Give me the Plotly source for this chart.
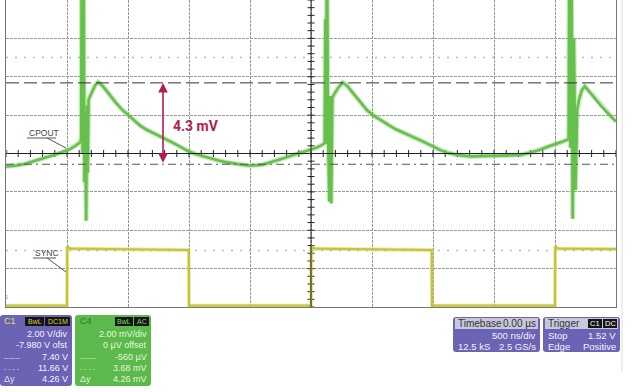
import numpy as np
import plotly.graph_objects as go

# ---------------- data ----------------
# time in microseconds (500 ns/div, 10 div, trigger at centre)
green_t = [-2.50, -2.42, -2.35, -2.28, -2.20, -2.12, -2.05, -1.98, -1.93, -1.89,
           -1.884, -1.879, -1.872, -1.865, -1.857, -1.851, -1.843, -1.836, -1.830, -1.823,
           -1.810, -1.790, -1.770, -1.745, -1.72, -1.68, -1.64, -1.60, -1.55, -1.50,
           -1.45, -1.40, -1.35, -1.30, -1.25, -1.20, -1.15, -1.10, -1.05, -1.00,
           -0.95, -0.90, -0.85, -0.80, -0.75, -0.70, -0.65, -0.60, -0.55, -0.50,
           -0.45, -0.40, -0.35, -0.30, -0.25, -0.20, -0.15, -0.10, -0.05, 0.00,
           0.05, 0.10, 0.112,
           0.118, 0.124, 0.130, 0.140, 0.150, 0.158, 0.166, 0.175,
           0.190, 0.220, 0.260, 0.300, 0.350, 0.400, 0.460, 0.520, 0.580, 0.640,
           0.700, 0.770, 0.840, 0.920, 1.000, 1.050, 1.110, 1.200, 1.310, 1.400,
           1.500, 1.600, 1.720, 1.800, 1.880, 1.950, 2.020, 2.070, 2.112,
           2.118, 2.126, 2.134, 2.145, 2.155, 2.168, 2.182,
           2.200, 2.220, 2.245, 2.280, 2.330, 2.380, 2.430, 2.470, 2.500]
# CPOUT (C4) in mV, 2 mV/div, 0 offset
green_mv = [-0.68, -0.64, -0.55, -0.42, -0.28, -0.10, 0.05, 0.22, 0.40, 0.60,
            0.8, 12, 0.0, 12, -1.5, 2.0, -3.5, 2.5, -1.0, 2.8,
            3.0, 3.3, 3.55, 3.72, 3.6, 3.3, 2.95, 2.65, 2.3, 2.0,
            1.72, 1.45, 1.25, 1.1, 0.95, 0.8, 0.62, 0.45, 0.27, 0.10,
            -0.02, -0.12, -0.22, -0.30, -0.38, -0.45, -0.51, -0.56, -0.60, -0.62,
            -0.62, -0.58, -0.50, -0.40, -0.30, -0.20, -0.08, 0.02, 0.10, 0.20,
            0.32, 0.48, 0.55,
            7.0, 0.5, 12, 1.0, -2.5, 3.0, -2.6, 2.9,
            3.1, 3.4, 3.7, 3.5, 3.1, 2.7, 2.25, 1.95, 1.7, 1.47,
            1.25, 1.05, 0.88, 0.62, 0.37, 0.2, 0.05, -0.08, -0.15, -0.13,
            -0.10, -0.10, -0.08, 0.05, 0.20, 0.38, 0.52, 0.64, 0.75,
            12, 0.3, 12, -3.4, 6.0, -1.9, 2.3,
            2.9, 3.3, 3.5, 3.25, 2.85, 2.45, 2.1, 1.85, 1.67]
assert len(green_t) == len(green_mv)

# SYNC (C1) in V, 2 V/div, -7.980 V offset
sync_t = [-2.5, -2.0, -1.998, -1.99, -1.97, -1.5, -1.002, -1.0, -0.5, 0.0,
          0.002, 0.01, 0.03, 0.5, 0.99, 0.992, 1.5, 2.0, 2.002, 2.01, 2.03, 2.5]
sync_v = [0.05, 0.05, 3.15, 3.08, 3.02, 3.0, 2.95, 0.05, 0.05, 0.05,
          3.15, 3.08, 3.02, 3.0, 2.95, 0.05, 0.05, 0.05, 3.15, 3.08, 3.02, 3.0]

cursor_top_mv = 3.68
cursor_bot_mv = -0.56
ref_dot_mv = [5.0, -5.05]
trigger_level_v = 1.52
delta_label = "4.3 mV"
arrow_t = -1.213

c1_rows = ["2.00 V/div", "-7.980 V ofst", "7.40 V", "11.66 V", "4.26 V"]
c4_rows = ["2.00 mV/div", "0 µV offset", "-560 µV", "3.68 mV", "4.26 mV"]
row_marks = ["", "", "-------", "- - - -", "Δy"]

# ---------------- geometry helpers ----------------
W, H = 644, 392
ML, MR, MT, MB = 6, 28, 0, 85
PW, PH = W - ML - MR, H - MT - MB


def px(x):
    return (x - ML) / PW


def py(y):
    return (MT + PH - y) / PH


GREEN = "#66c04c"
YEL = "#c6c438"
PURP = "#6b63b3"
GRN_P = "#5cb94b"
CRIM = "#b31d52"
FONT = "Liberation Sans"

fig = go.Figure()

# dotted reference lines
for v in ref_dot_mv:
    fig.add_shape(type="line", xref="paper", yref="y", x0=0, x1=1, y0=v, y1=v,
                  line=dict(color="#b8b8b8", width=1.5, dash="2px,7px"), layer="below")

# centre lines
fig.add_shape(type="line", xref="x", yref="paper", x0=0, x1=0, y0=0, y1=1,
              line=dict(color="#222", width=1))
fig.add_shape(type="line", xref="paper", yref="y", x0=0, x1=1, y0=0, y1=0,
              line=dict(color="#222", width=1))

# cursors
fig.add_shape(type="line", xref="paper", yref="y", x0=0, x1=1,
              y0=cursor_top_mv, y1=cursor_top_mv,
              line=dict(color="#333", width=1, dash="13px,5px"))
fig.add_shape(type="line", xref="paper", yref="y", x0=0, x1=1,
              y0=cursor_bot_mv, y1=cursor_bot_mv,
              line=dict(color="#555", width=1, dash="8px,4px,2px,4px"))

# centre-line tick marks
tx = np.round(np.arange(-2.5, 2.5001, 0.1), 3)
fig.add_trace(go.Scatter(x=tx, y=np.zeros_like(tx), mode="markers", hoverinfo="skip",
                         marker=dict(symbol="line-ns", size=5, line=dict(width=1, color="#222")),
                         showlegend=False))
ty = np.round(np.arange(-8, 8.001, 0.4), 3)
fig.add_trace(go.Scatter(x=np.zeros_like(ty), y=ty, mode="markers", hoverinfo="skip",
                         marker=dict(symbol="line-ew", size=5, line=dict(width=1, color="#222")),
                         showlegend=False))

# traces (a faint wide underlay gives the noisy band look)
fig.add_trace(go.Scatter(x=sync_t, y=sync_v, yaxis="y2", mode="lines", opacity=0.35,
                         line=dict(color=YEL, width=4), showlegend=False, hoverinfo="skip"))
fig.add_trace(go.Scatter(x=sync_t, y=sync_v, yaxis="y2", mode="lines",
                         line=dict(color=YEL, width=2.2), showlegend=False))
fig.add_trace(go.Scatter(x=green_t, y=green_mv, mode="lines", opacity=0.35,
                         line=dict(color=GREEN, width=5), showlegend=False, hoverinfo="skip"))
fig.add_trace(go.Scatter(x=green_t, y=green_mv, mode="lines",
                         line=dict(color=GREEN, width=2.6), showlegend=False))

# trigger markers
fig.add_trace(go.Scatter(x=[2.535], y=[trigger_level_v], yaxis="y2", mode="markers",
                         marker=dict(symbol="triangle-left", size=7, color="#c8c85a"),
                         cliponaxis=False, showlegend=False))
fig.add_trace(go.Scatter(x=[0], y=[-0.35], yaxis="y2", mode="markers",
                         marker=dict(symbol="triangle-up", size=6, color="#c8c85a"),
                         cliponaxis=False, showlegend=False))

# delta arrow + label
fig.add_annotation(x=arrow_t, y=cursor_top_mv, ax=arrow_t, ay=cursor_bot_mv,
                   xref="x", yref="y", axref="x", ayref="y", text="", showarrow=True,
                   arrowhead=2, arrowside="end+start", arrowsize=1.2, arrowwidth=1.6,
                   arrowcolor=CRIM, standoff=0, startstandoff=0)
fig.add_annotation(x=px(171), y=py(126), xref="paper", yref="paper", text="<b>%s</b>" % delta_label,
                   showarrow=False, xanchor="left", yanchor="middle",
                   font=dict(family="Roboto", size=14, color=CRIM))

# trace labels with underline & leader
for label, tx0, tyy, lx, ly in [("CPOUT", 27, 133, 66, 148), ("SYNC", 33, 253, 66, 272)]:
    fig.add_annotation(x=px(tx0), y=py(tyy), xref="paper", yref="paper", text=label,
                       showarrow=False, xanchor="left", yanchor="middle",
                       font=dict(family=FONT, size=8.5, color="#444"))
    wtxt = 29 if label == "CPOUT" else 23
    fig.add_shape(type="line", xref="paper", yref="paper", x0=px(tx0), x1=px(tx0 + wtxt),
                  y0=py(tyy + 5), y1=py(tyy + 5), line=dict(color="#555", width=1))
    fig.add_shape(type="line", xref="paper", yref="paper", x0=px(tx0 + wtxt - 9), x1=px(lx),
                  y0=py(tyy + 5), y1=py(ly), line=dict(color="#555", width=1))

# channel markers on left
fig.add_annotation(x=px(2.5), y=py(152), xref="paper", yref="paper", text="4", showarrow=False,
                   font=dict(family=FONT, size=6, color=GREEN))
fig.add_annotation(x=px(2.5), y=py(302), xref="paper", yref="paper", text="1", showarrow=False,
                   font=dict(family=FONT, size=6, color="#999"))

# right faint edge line
fig.add_shape(type="line", xref="paper", yref="paper", x0=px(622), x1=px(622),
              y0=py(0), y1=py(372), line=dict(color="#dedede", width=1))


def rrect(x0, y0, x1, y1, r, color):
    pts = [(x0 + r, y0), (x1 - r, y0), (x1, y0), (x1, y0 + r), (x1, y1 - r), (x1, y1),
           (x1 - r, y1), (x0 + r, y1), (x0, y1), (x0, y1 - r), (x0, y0 + r), (x0, y0), (x0 + r, y0)]
    p = [(px(a), py(b)) for a, b in pts]
    path = ("M {0[0]},{0[1]} L {1[0]},{1[1]} Q {2[0]},{2[1]} {3[0]},{3[1]} L {4[0]},{4[1]} "
            "Q {5[0]},{5[1]} {6[0]},{6[1]} L {7[0]},{7[1]} Q {8[0]},{8[1]} {9[0]},{9[1]} "
            "L {10[0]},{10[1]} Q {11[0]},{11[1]} {12[0]},{12[1]} Z").format(*p)
    fig.add_shape(type="path", xref="paper", yref="paper", path=path,
                  fillcolor=color, line=dict(width=0), layer="above")


def rect(x0, y0, x1, y1, color):
    fig.add_shape(type="rect", xref="paper", yref="paper", x0=px(x0), x1=px(x1),
                  y0=py(y0), y1=py(y1), fillcolor=color, line=dict(width=0), layer="above")


def txt(x, y, s, color, size=9, anchor="right", bold=False):
    fig.add_annotation(x=px(x), y=py(y), xref="paper", yref="paper",
                       text=("<b>%s</b>" % s) if bold else s, showarrow=False,
                       xanchor=anchor, yanchor="middle",
                       font=dict(family=FONT, size=size, color=color))


# C1 panel
rrect(0, 315, 72, 386, 3, PURP)
txt(2, 321, "C1", "#e8e050", 9, "left")
rect(25, 317, 44, 326, "#151515")
rect(45, 317, 70, 326, "#151515")
txt(34.5, 321.5, "BwL", "#d8d050", 7, "center")
txt(57.5, 321.5, "DC1M", "#d8d050", 7, "center")
# C4 panel
rrect(75, 315, 151, 386, 3, GRN_P)
txt(78, 321, "C4", "#2a7a2a", 9, "left")
rect(115, 317, 133, 326, "#151515")
rect(134, 317, 149, 326, "#151515")
txt(124, 321.5, "BwL", "#7fdc6a", 7, "center")
txt(141.5, 321.5, "AC", "#7fdc6a", 7, "center")

row_y = [334, 345, 357, 368, 379]
for i, yy in enumerate(row_y):
    txt(70, yy, c1_rows[i], "#f4f2ff", 9)
    txt(149, yy, c4_rows[i], "#e4f8dc", 9)
    if row_marks[i]:
        txt(2, yy, row_marks[i], "#e0ddf5", 7 if i < 4 else 9, "left")
        txt(78, yy, row_marks[i], "#dcf5d2", 7 if i < 4 else 9, "left")

# Timebase panel
rrect(453, 317, 540, 352, 3, PURP)
rect(455, 318, 538, 329, "#c9c7dc")
txt(456, 323.5, "Timebase", "#333", 10, "left")
txt(538, 323.5, "0.00 µs", "#333", 10)
txt(538, 335, "500 ns/div", "#f4f2ff", 9.5)
txt(456, 346, "12.5 kS", "#f4f2ff", 9.5, "left")
txt(538, 346, "2.5 GS/s", "#f4f2ff", 9.5)
# Trigger panel
rrect(543, 317, 620, 352, 3, PURP)
rect(545, 318, 618, 329, "#c9c7dc")
txt(546, 323.5, "Trigger", "#333", 10, "left")
rect(588, 319, 602, 328, "#151515")
rect(603, 319, 617, 328, "#151515")
txt(595, 323.5, "C1", "#fff", 7.5, "center")
txt(610, 323.5, "DC", "#fff", 7.5, "center")
txt(546, 335, "Stop", "#f4f2ff", 9.5, "left")
txt(618, 335, "%.2f V" % trigger_level_v, "#f4f2ff", 9.5)
txt(546, 346, "Edge", "#f4f2ff", 9.5, "left")
txt(618, 346, "Positive", "#f4f2ff", 9.5)

fig.update_layout(
    width=W, height=H, margin=dict(l=ML, r=MR, t=MT, b=MB),
    paper_bgcolor="white", plot_bgcolor="white", showlegend=False,
    xaxis=dict(range=[-2.5, 2.5], dtick=0.5, tick0=-2.5, showticklabels=False, ticks="",
               showgrid=True, gridcolor="#999999", griddash="3px,1px", gridwidth=1,
               zeroline=False, showline=True, linecolor="#777", linewidth=1, mirror=True),
    yaxis=dict(range=[-8, 8], dtick=2, tick0=-8, showticklabels=False, ticks="",
               showgrid=True, gridcolor="#999999", griddash="3px,1px", gridwidth=1,
               zeroline=False, showline=True, linecolor="#777", linewidth=1, mirror=True),
    yaxis2=dict(range=[-0.02, 15.98], overlaying="y", visible=False),
)

fig.write_html("out.html")
